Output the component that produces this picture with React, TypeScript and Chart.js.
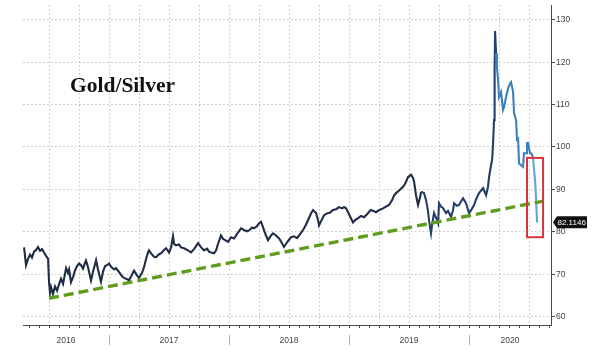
import React, { useEffect, useRef } from "react";
import { Chart, registerables } from "chart.js";

Chart.register(...registerables);

// ---- data (year fraction, gold/silver ratio) ----
const dates = [
  2016.292, 2016.308, 2016.325, 2016.342, 2016.358, 2016.375, 2016.392, 2016.408, 2016.425, 2016.442,
  2016.458, 2016.475, 2016.492, 2016.5, 2016.508, 2016.517, 2016.533, 2016.55, 2016.567, 2016.583,
  2016.6, 2016.617, 2016.633, 2016.642, 2016.658, 2016.667, 2016.683, 2016.7, 2016.717, 2016.733,
  2016.75, 2016.767, 2016.783, 2016.8, 2016.808, 2016.825, 2016.85, 2016.867, 2016.892, 2016.908,
  2016.925, 2016.933, 2016.95, 2016.967, 2016.983, 2017.0, 2017.017, 2017.042, 2017.058, 2017.083,
  2017.108, 2017.125, 2017.15, 2017.167, 2017.192, 2017.208, 2017.233, 2017.25, 2017.275, 2017.292,
  2017.308, 2017.325, 2017.333, 2017.35, 2017.375, 2017.392, 2017.417, 2017.433, 2017.458, 2017.475,
  2017.5, 2017.517, 2017.533, 2017.542, 2017.558, 2017.583, 2017.6, 2017.625, 2017.65, 2017.667,
  2017.683, 2017.708, 2017.725, 2017.742, 2017.767, 2017.792, 2017.817, 2017.833, 2017.85, 2017.875,
  2017.892, 2017.908, 2017.933, 2017.95, 2017.975, 2017.992, 2018.017, 2018.042, 2018.067, 2018.1,
  2018.125, 2018.15, 2018.167, 2018.192, 2018.208, 2018.233, 2018.25, 2018.267, 2018.283, 2018.292,
  2018.308, 2018.325, 2018.35, 2018.367, 2018.392, 2018.417, 2018.433, 2018.458, 2018.483, 2018.5,
  2018.517, 2018.542, 2018.567, 2018.583, 2018.6, 2018.625, 2018.642, 2018.658, 2018.683, 2018.7,
  2018.725, 2018.742, 2018.75, 2018.767, 2018.792, 2018.817, 2018.842, 2018.867, 2018.892, 2018.917,
  2018.942, 2018.958, 2018.975, 2018.992, 2019.017, 2019.033, 2019.058, 2019.075, 2019.1, 2019.125,
  2019.15, 2019.167, 2019.183, 2019.208, 2019.225, 2019.25, 2019.267, 2019.283, 2019.308, 2019.333,
  2019.358, 2019.375, 2019.392, 2019.417, 2019.45, 2019.467, 2019.492, 2019.517, 2019.533, 2019.542,
  2019.558, 2019.575, 2019.592, 2019.6, 2019.625, 2019.642, 2019.658, 2019.667, 2019.683, 2019.692,
  2019.708, 2019.725, 2019.742, 2019.75, 2019.767, 2019.783, 2019.808, 2019.825, 2019.85, 2019.867,
  2019.875, 2019.9, 2019.917, 2019.933, 2019.95, 2019.975, 2019.992, 2020.0, 2020.017, 2020.042,
  2020.058, 2020.083, 2020.1, 2020.117, 2020.142, 2020.158, 2020.167, 2020.183, 2020.192, 2020.2,
  2020.208, 2020.213, 2020.217, 2020.225, 2020.233, 2020.242, 2020.25, 2020.267, 2020.283, 2020.292,
  2020.308, 2020.325, 2020.342, 2020.35, 2020.367, 2020.375, 2020.392, 2020.4, 2020.408, 2020.417,
  2020.433, 2020.45, 2020.458, 2020.475, 2020.483, 2020.492, 2020.508, 2020.517, 2020.533, 2020.542,
  2020.55, 2020.558, 2020.567,
];

const ratio = [
  76.2, 72.0, 73.5, 74.5, 73.8, 75.2, 75.6, 76.3, 75.4, 75.8,
  75.0, 74.2, 73.5, 68.0, 65.5, 66.8, 65.2, 67.0, 66.0, 67.5,
  68.8, 67.6, 70.0, 71.3, 70.2, 71.0, 68.0, 69.2, 70.8, 71.8,
  72.4, 72.0, 71.2, 72.6, 73.1, 71.5, 68.4, 70.5, 73.2, 71.0,
  69.0, 68.1, 70.5, 71.8, 72.0, 72.4, 71.6, 71.0, 71.3, 70.4,
  69.4, 69.0, 68.7, 68.5, 69.8, 70.7, 69.6, 69.0, 70.2, 71.6,
  73.4, 75.0, 75.5, 74.8, 74.0, 73.9, 74.6, 74.8, 75.6, 76.0,
  75.0, 76.2, 78.8, 77.0, 76.7, 76.9, 76.2, 76.0, 75.6, 75.3,
  75.0, 75.8, 76.5, 77.2, 76.2, 75.5, 75.9, 75.2, 75.0, 74.8,
  75.5, 77.0, 79.0, 78.2, 77.8, 77.5, 78.6, 78.3, 79.4, 80.7,
  80.3, 80.0, 80.2, 80.9, 80.7, 81.2, 81.9, 82.2, 81.0, 80.2,
  79.0, 77.9, 79.0, 79.5, 79.0, 78.3, 77.6, 76.3, 77.4, 78.0,
  78.6, 78.8, 78.4, 79.0, 79.6, 80.7, 81.6, 82.6, 84.2, 85.0,
  84.3, 82.6, 81.4, 82.4, 83.8, 84.2, 84.4, 85.0, 85.2, 85.7,
  85.4, 85.7, 85.4, 84.5, 83.0, 82.1, 82.8, 83.1, 83.6, 83.3,
  84.0, 84.6, 85.0, 84.7, 84.5, 85.0, 85.2, 85.4, 85.8, 86.2,
  87.3, 88.4, 89.0, 89.6, 90.5, 91.2, 92.8, 93.3, 92.6, 91.7,
  88.5, 86.2, 88.0, 89.3, 89.0, 87.3, 84.8, 82.5, 79.5, 81.5,
  84.3, 83.2, 81.9, 86.6, 85.8, 85.5, 84.3, 84.8, 83.4, 85.0,
  86.6, 86.0, 86.2, 87.0, 87.8, 86.6, 85.0, 84.3, 85.0, 86.2,
  87.5, 89.0, 89.6, 90.2, 88.5, 90.5, 92.8, 95.5, 96.8, 100.5,
  106.2, 118.0, 127.2, 122.0, 118.5, 115.6, 111.6, 112.8, 108.6, 109.3,
  111.6, 113.7, 114.9, 115.2, 112.8, 107.9, 106.2, 101.5, 102.2, 96.0,
  95.6, 95.2, 98.4, 98.4, 100.8, 100.8, 98.4, 98.4, 97.5, 94.4,
  92.1, 88.0, 82.1,
];

// trend line (support), highlight box, last value
const trendDates = [2016.5, 2020.617];
const trendValues = [64.2, 87.1];
const boxDates = [2020.483, 2020.617];
const boxValues = [78.6, 97.3];
const lastValue = "82.1146";

// axis
const xMin = 2016.283;
const xMax = 2020.683;
const yMin = 57.9;
const yMax = 133.35;
const yTicks = [60, 70, 80, 90, 100, 110, 120, 130];
const years = [2016, 2017, 2018, 2019, 2020];
const yearLabels = ["2016", "2017", "2018", "2019", "2020"];
const title = "Gold/Silver";

const AXIS_FONT = '8.5px "Liberation Sans", Arial, sans-serif';

const decorPlugin = {
  id: "decor",
  beforeDraw(chart: any) {
    const { ctx, width, height } = chart;
    ctx.save();
    ctx.fillStyle = "#ffffff";
    ctx.fillRect(0, 0, width, height);
    ctx.restore();
  },
  beforeDatasetsDraw(chart: any) {
    const { ctx, chartArea: a, scales } = chart;
    const x = scales.x;
    const y = scales.y;
    ctx.save();
    ctx.strokeStyle = "#c4c4c4";
    ctx.lineWidth = 1;
    ctx.setLineDash([1.5, 2.5]);
    yTicks.forEach((v) => {
      const py = Math.round(y.getPixelForValue(v)) + 0.5;
      ctx.beginPath();
      ctx.moveTo(a.left, py);
      ctx.lineTo(a.right, py);
      ctx.stroke();
    });
    for (let q = Math.ceil(xMin * 4); q / 4 < xMax; q++) {
      const px = Math.round(x.getPixelForValue(q / 4)) + 0.5;
      ctx.beginPath();
      ctx.moveTo(px, a.top);
      ctx.lineTo(px, a.bottom);
      ctx.stroke();
    }
    ctx.setLineDash([]);
    ctx.fillStyle = "#111111";
    ctx.font = 'bold 21.5px "Liberation Serif", "Times New Roman", serif';
    ctx.textAlign = "left";
    ctx.textBaseline = "alphabetic";
    ctx.fillText(title, 70, 92);
    ctx.restore();
  },
  afterDatasetsDraw(chart: any) {
    const { ctx, chartArea: a, scales } = chart;
    const x = scales.x;
    const y = scales.y;
    ctx.save();
    ctx.strokeStyle = "#4a4a4a";
    ctx.lineWidth = 1;
    ctx.beginPath();
    ctx.moveTo(a.left, a.bottom + 0.5);
    ctx.lineTo(a.right, a.bottom + 0.5);
    ctx.moveTo(a.right + 0.5, a.top);
    ctx.lineTo(a.right + 0.5, a.bottom + 1);
    ctx.stroke();
    ctx.beginPath();
    for (let m = Math.ceil(xMin * 12); m / 12 < xMax; m++) {
      const px = Math.round(x.getPixelForValue(m / 12)) + 0.5;
      ctx.moveTo(px, a.bottom);
      ctx.lineTo(px, a.bottom + 3);
    }
    ctx.stroke();
    ctx.font = AXIS_FONT;
    ctx.fillStyle = "#444444";
    ctx.textAlign = "left";
    ctx.textBaseline = "middle";
    yTicks.forEach((v) => {
      const py = Math.round(y.getPixelForValue(v)) + 0.5;
      ctx.beginPath();
      ctx.moveTo(a.right, py);
      ctx.lineTo(a.right + 4, py);
      ctx.stroke();
      ctx.fillText(String(v), a.right + 5, py);
    });
    ctx.strokeStyle = "#b0b0b0";
    years.forEach((yr, i) => {
      if (yr > xMin && yr < xMax) {
        const px = Math.round(x.getPixelForValue(yr)) + 0.5;
        ctx.beginPath();
        ctx.moveTo(px, a.bottom + 10);
        ctx.lineTo(px, a.bottom + 20);
        ctx.stroke();
      }
      const s = Math.max(yr, xMin);
      const e = Math.min(yr + 1, xMax);
      const cx = (x.getPixelForValue(s) + x.getPixelForValue(e)) / 2;
      ctx.textAlign = "center";
      ctx.fillText(yearLabels[i], cx, a.bottom + 16);
    });
    ctx.restore();
  },
  afterDraw(chart: any) {
    const { ctx, chartArea: a, scales } = chart;
    const x = scales.x;
    const y = scales.y;
    ctx.save();
    const x0 = x.getPixelForValue(boxDates[0]);
    const x1 = x.getPixelForValue(boxDates[1]);
    const y0 = y.getPixelForValue(boxValues[1]);
    const y1 = y.getPixelForValue(boxValues[0]);
    ctx.strokeStyle = "#d8343c";
    ctx.lineWidth = 2;
    ctx.strokeRect(x0, y0, x1 - x0, y1 - y0);
    const py = y.getPixelForValue(ratio[ratio.length - 1]);
    const bx = a.right + 2;
    const bw = 34;
    const bh = 12;
    ctx.fillStyle = "#111111";
    ctx.beginPath();
    ctx.moveTo(bx, py);
    ctx.lineTo(bx + 4, py - bh / 2);
    ctx.lineTo(bx + bw, py - bh / 2);
    ctx.lineTo(bx + bw, py + bh / 2);
    ctx.lineTo(bx + 4, py + bh / 2);
    ctx.closePath();
    ctx.fill();
    ctx.fillStyle = "#ffffff";
    ctx.font = '8px "Liberation Sans", Arial, sans-serif';
    ctx.textAlign = "left";
    ctx.textBaseline = "middle";
    ctx.fillText(lastValue, bx + 4.5, py + 0.5);
    ctx.restore();
  },
};

export default function App() {
  const ref = useRef<HTMLCanvasElement | null>(null);
  useEffect(() => {
    if (!ref.current) return;
    const chart = new Chart(ref.current, {
      type: "line",
      data: {
        datasets: [
          {
            label: "Trend",
            data: trendDates.map((t, i) => ({ x: t, y: trendValues[i] })),
            borderColor: "#5f9c1f",
            borderWidth: 3.4,
            borderDash: [10, 5],
            pointRadius: 0,
            fill: false,
          },
          {
            label: "Gold/Silver",
            data: dates.map((t, i) => ({ x: t, y: ratio[i] })),
            borderColor: "#1f2d45",
            borderWidth: 2.1,
            pointRadius: 0,
            tension: 0,
            fill: false,
            segment: {
              borderColor: (c: any) => {
                const t = c.p0.parsed.x;
                if (t >= 2020.53) return "#5ea7d9";
                if (t >= 2020.225) return "#3d80bf";
                if (t >= 2019.6) return "#24406a";
                return "#1f2d45";
              },
            },
          },
        ],
      },
      options: {
        responsive: false,
        animation: false,
        events: [],
        layout: { padding: { left: 23, right: 49, top: 5, bottom: 37 } },
        plugins: { legend: { display: false }, tooltip: { enabled: false }, title: { display: false } },
        scales: {
          x: { type: "linear", min: xMin, max: xMax, display: false },
          y: { type: "linear", min: yMin, max: yMax, display: false },
        },
      },
      plugins: [decorPlugin],
    });
    return () => chart.destroy();
  }, []);
  return (
    <div style={{ position: "absolute", left: 0, top: 0, width: 600, height: 362 }}>
      <canvas ref={ref} width={600} height={362} style={{ width: 600, height: 362, display: "block" }} />
    </div>
  );
}
